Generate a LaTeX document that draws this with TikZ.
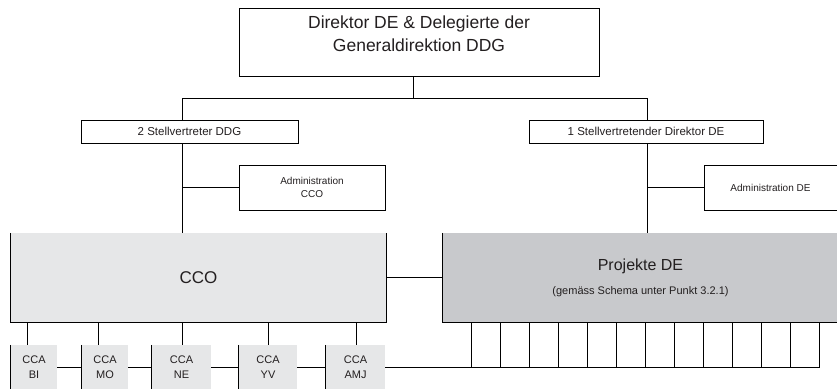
\documentclass[tikz,border=0pt]{standalone}
\usepackage{fontspec}
\setmainfont{Liberation Sans}
\usetikzlibrary{backgrounds}

\definecolor{ccogrey}{RGB}{230,231,232}
\definecolor{projgrey}{RGB}{200,201,204}
\definecolor{inkgrey}{RGB}{35,31,32}

\begin{document}
\begin{tikzpicture}
	  [x=1pt, y=-1pt,
	  %
	  block/.style={rectangle, draw=black, line width=0.9pt, fill=white, inner sep=0pt, align=center, text=inkgrey},
	  %
	  greyblock/.style={rectangle, inner sep=0pt, align=center, text=inkgrey},
	  %
	  ccabox/.style={greyblock, fill=ccogrey, minimum height=45pt, font=\fontsize{11}{15}\selectfont},
	  %
	  customline/.style={draw=black, line width=0.9pt}]

	    \useasboundingbox (0,0) rectangle (837,388);

	    \node [block, minimum width=360pt, minimum height=68pt] (dir) at (419,42) {};
	    \node [anchor=north, inner sep=0pt, align=center, text=inkgrey, font=\fontsize{17.5}{23}\selectfont] (dirtext) at (419,15.5) {Direktor DE \& Delegierte der\\Generaldirektion DDG};
	    \node [block, minimum width=217pt, minimum height=23pt, font=\fontsize{11.5}{14}\selectfont] (stv1) at (189.5,131.5) {2 Stellvertreter DDG};
	    \node [block, minimum width=234pt, minimum height=23pt, font=\fontsize{11.5}{14}\selectfont] (stv2) at (646,131.5) {1 Stellvertretender Direktor DE};
	    \node [block, minimum width=146pt, minimum height=45pt, font=\fontsize{10}{13}\selectfont] (admcco) at (312,187.5) {Administration\\CCO};
	    \node [block, minimum width=133pt, minimum height=45pt, font=\fontsize{10}{13}\selectfont] (admde) at (770.5,187.5) {Administration DE};
	    \node [greyblock, fill=ccogrey, minimum width=375pt, minimum height=89pt, font=\fontsize{17}{20}\selectfont] (cco) at (198.5,277.5) {CCO};
	    \node [greyblock, fill=projgrey, minimum width=395pt, minimum height=89pt, font=\fontsize{11}{13}\selectfont] (proj) at (640.5,277.5) {{\fontsize{16}{19}\selectfont Projekte DE}\\[11pt](gemäss Schema unter Punkt 3.2.1)};
	    \foreach \x/\w/\lbl [count=\i] in {34/46/BI, 105/46/MO, 181.5/59/NE, 268/58/YV, 355.5/59/AMJ}
	      \node [ccabox, minimum width=\w pt] (cca\i) at (\x,367.5) {CCA\\\lbl};

	    \coordinate (hub) at (413,98);
	    \coordinate (lbus) at (182,98);
	    \coordinate (rbus) at (647,98);
	    \coordinate (busend) at (820,367.5);

	    \draw [customline] (cco.north west) |- (cco.south east) -- (cco.north east);
	    \draw [customline] (proj.north west) |- (proj.south east);
	    \foreach \i in {1,...,5}
	      \draw [customline] (cca\i.north west) -- (cca\i.south west);

	    \draw [customline] (dir.south -| hub) -- (hub);
	    \draw [customline] (lbus) -- (rbus);
	    \draw [customline] (lbus) -- (stv1.north -| lbus);
	    \draw [customline] (stv1.south -| lbus) -- (cco.north -| lbus);
	    \draw [customline] (admcco.west -| lbus) -- (admcco.west);
	    \draw [customline] (rbus) -- (stv2.north -| rbus);
	    \draw [customline] (stv2.south -| rbus) -- (proj.north -| rbus);
	    \draw [customline] (admde.west -| rbus) -- (admde.west);
	    \draw [customline] (cco.east) -- (proj.west);
	    \foreach \x [count=\i] in {27,98,182,268,356} {
	      \coordinate (drop\i) at (\x,0);
	      \draw [customline] (cco.south -| drop\i) -- (cca\i.north -| drop\i);
	    }
	    \foreach \k in {0,...,12}
	      \draw [customline] ([xshift=29pt+29pt*\k]proj.south west) -- ([xshift=29pt+29pt*\k]proj.south west |- busend);
	    \begin{scope}[on background layer]
	      \draw [customline] (cca1) -- (busend);
	    \end{scope}
	  \end{tikzpicture}
\end{document}
